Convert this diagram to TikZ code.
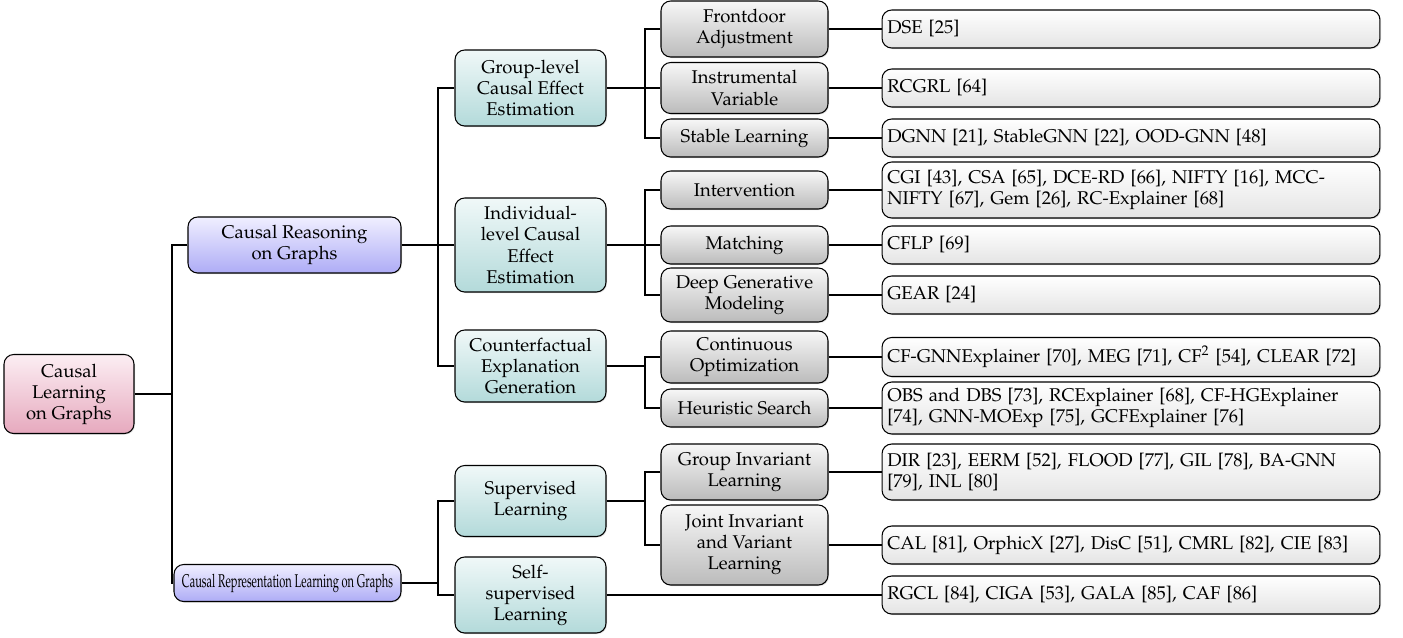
\documentclass[tikz,border=0pt]{standalone}
\usepackage[T1]{fontenc}
\usepackage{mathpazo}
\usetikzlibrary{shadows}
\definecolor{rootTop}{HTML}{FCEEF3}
\definecolor{rootBot}{HTML}{E6A9BE}
\definecolor{purTop}{HTML}{F0EFFF}
\definecolor{purBot}{HTML}{AEACF6}
\definecolor{tealTop}{HTML}{F0F8F8}
\definecolor{tealBot}{HTML}{B3DADA}
\definecolor{grayTop}{HTML}{F7F7F7}
\definecolor{grayBot}{HTML}{BBBBBB}
\definecolor{leafTop}{HTML}{FFFFFF}
\definecolor{leafBot}{HTML}{E4E4E4}
\tikzset{
  base/.style={draw=black, line width=0.6pt, rounded corners=5.5pt, inner xsep=3pt, inner ysep=1pt,
    font=\fontsize{10.5}{12}\selectfont, drop shadow={opacity=0.25, shadow xshift=0.6pt, shadow yshift=-0.6pt}},
  rootbox/.style={base, top color=rootTop, bottom color=rootBot, align=center, minimum width=2.6cm},
  purbox/.style={base, top color=purTop, bottom color=purBot, align=center, minimum width=4.26cm},
  tealbox/.style={base, top color=tealTop, bottom color=tealBot, align=center, minimum width=3.02cm},
  graybox/.style={base, top color=grayTop, bottom color=grayBot, align=center, minimum width=3.34cm},
  leafbox/.style={base, top color=leafTop, bottom color=leafBot, align=left, text width=9.96cm-6pt, inner xsep=3pt},
  conn/.style={draw=black, line width=0.85pt},
}
\begin{document}
\begin{tikzpicture}[x=0.02cm, y=-0.02cm]
\useasboundingbox (0,0) rectangle (1403,637);
% root
\node[rootbox, minimum height=1.58cm] (root) at (69,394) {Causal\\Learning\\on Graphs};
% level 1
\node[purbox, minimum height=1.12cm] (reason) at (294.5,245) {Causal Reasoning\\on Graphs};
\node[purbox, minimum width=4.54cm, minimum height=0.74cm] (repr) at (287.5,583) {\scalebox{0.6}[1]{Causal Representation Learning on Graphs}};
% level 2
\node[tealbox, minimum height=1.52cm] (group) at (530.5,88) {Group-level\\Causal Effect\\Estimation};
\node[tealbox, minimum height=1.88cm] (indiv) at (530.5,245) {Individual-\\level Causal\\Effect\\Estimation};
\node[tealbox, minimum height=1.44cm] (cf) at (530.5,366) {Counterfactual\\Explanation\\Generation};
\node[tealbox, minimum height=1.42cm] (sup) at (530.5,501) {Supervised\\Learning};
\node[tealbox, minimum height=1.52cm] (self) at (530.5,595) {Self-\\supervised\\Learning};
% level 3
\node[graybox, minimum height=1.12cm] (front) at (744.5,29) {Frontdoor\\Adjustment};
\node[graybox, minimum height=1.02cm] (instr) at (744.5,88) {Instrumental\\Variable};
\node[graybox, minimum height=0.76cm] (stable) at (744.5,138) {Stable Learning};
\node[graybox, minimum height=0.76cm] (interv) at (744.5,190) {Intervention};
\node[graybox, minimum height=0.76cm] (match) at (744.5,245) {Matching};
\node[graybox, minimum height=1.08cm] (deep) at (744.5,295) {Deep Generative\\Modeling};
\node[graybox, minimum height=1.04cm] (cont) at (744.5,357) {Continuous\\Optimization};
\node[graybox, minimum height=0.76cm] (heur) at (744.5,408) {Heuristic Search};
\node[graybox, minimum height=1.12cm] (ginv) at (744.5,472) {Group Invariant\\Learning};
\node[graybox, minimum height=1.60cm] (jinv) at (744.5,545) {Joint Invariant\\and Variant\\Learning};
% leaves
\node[leafbox, minimum height=0.76cm] (l1) at (1131,29) {DSE [25]};
\node[leafbox, minimum height=0.76cm] (l2) at (1131,88) {RCGRL [64]};
\node[leafbox, minimum height=0.76cm] (l3) at (1131,138) {DGNN [21], StableGNN [22], OOD-GNN [48]};
\node[leafbox, minimum height=1.12cm] (l4) at (1131,190) {CGI [43], CSA [65], DCE-RD [66], NIFTY [16], MCC-\\NIFTY [67], Gem [26], RC-Explainer [68]};
\node[leafbox, minimum height=0.76cm] (l5) at (1131,245) {CFLP [69]};
\node[leafbox, minimum height=0.76cm] (l6) at (1131,295) {GEAR [24]};
\node[leafbox, minimum height=0.78cm] (l7) at (1131,357) {CF-GNNExplainer [70], MEG [71], CF$^2$ [54], CLEAR [72]};
\node[leafbox, minimum height=1.04cm] (l8) at (1131,408) {OBS and DBS [73], RCExplainer [68], CF-HGExplainer\\{}[74], GNN-MOExp [75], GCFExplainer [76]};
\node[leafbox, minimum height=1.12cm] (l9) at (1131,472) {DIR [23], EERM [52], FLOOD [77], GIL [78], BA-GNN\\{}[79], INL [80]};
\node[leafbox, minimum height=0.76cm] (l10) at (1131,545) {CAL [81], OrphicX [27], DisC [51], CMRL [82], CIE [83]};
\node[leafbox, minimum height=0.76cm] (l11) at (1131,595) {RGCL [84], CIGA [53], GALA [85], CAF [86]};
% junction x positions
\coordinate (j0) at (172,0);
\coordinate (j1) at (438,0);
\coordinate (j2) at (645,0);
% connectors
\draw[conn] (root.east) -- (root.east -| j0);
\draw[conn] (reason.west) -- (reason.west -| j0) -- (repr.west -| j0) -- (repr.west);
\draw[conn] (reason.east) -- (reason.east -| j1);
\draw[conn] (group.west) -- (group.west -| j1) -- (cf.west -| j1) -- (cf.west);
\draw[conn] (indiv.west) -- (indiv.west -| j1);
\draw[conn] (repr.east) -- (repr.east -| j1);
\draw[conn] (sup.west) -- (sup.west -| j1) -- (self.west -| j1) -- (self.west);
\draw[conn] (group.east) -- (group.east -| j2);
\draw[conn] (front.west) -- (front.west -| j2) -- (stable.west -| j2) -- (stable.west);
\draw[conn] (instr.west) -- (instr.west -| j2);
\draw[conn] (indiv.east) -- (indiv.east -| j2);
\draw[conn] (interv.west) -- (interv.west -| j2) -- (deep.west -| j2) -- (deep.west);
\draw[conn] (match.west) -- (match.west -| j2);
\draw[conn] (cf.east) -- (cf.east -| j2);
\draw[conn] (cont.west) -- (cont.west -| j2) -- (heur.west -| j2) -- (heur.west);
\draw[conn] (sup.east) -- (sup.east -| j2);
\draw[conn] (ginv.west) -- (ginv.west -| j2) -- (jinv.west -| j2) -- (jinv.west);
\draw[conn] (front.east) -- (l1.west);
\draw[conn] (instr.east) -- (l2.west);
\draw[conn] (stable.east) -- (l3.west);
\draw[conn] (interv.east) -- (l4.west);
\draw[conn] (match.east) -- (l5.west);
\draw[conn] (deep.east) -- (l6.west);
\draw[conn] (cont.east) -- (l7.west);
\draw[conn] (heur.east) -- (l8.west);
\draw[conn] (ginv.east) -- (l9.west);
\draw[conn] (jinv.east) -- (l10.west);
\draw[conn] (self.east) -- (l11.west);
\end{tikzpicture}
\end{document}
